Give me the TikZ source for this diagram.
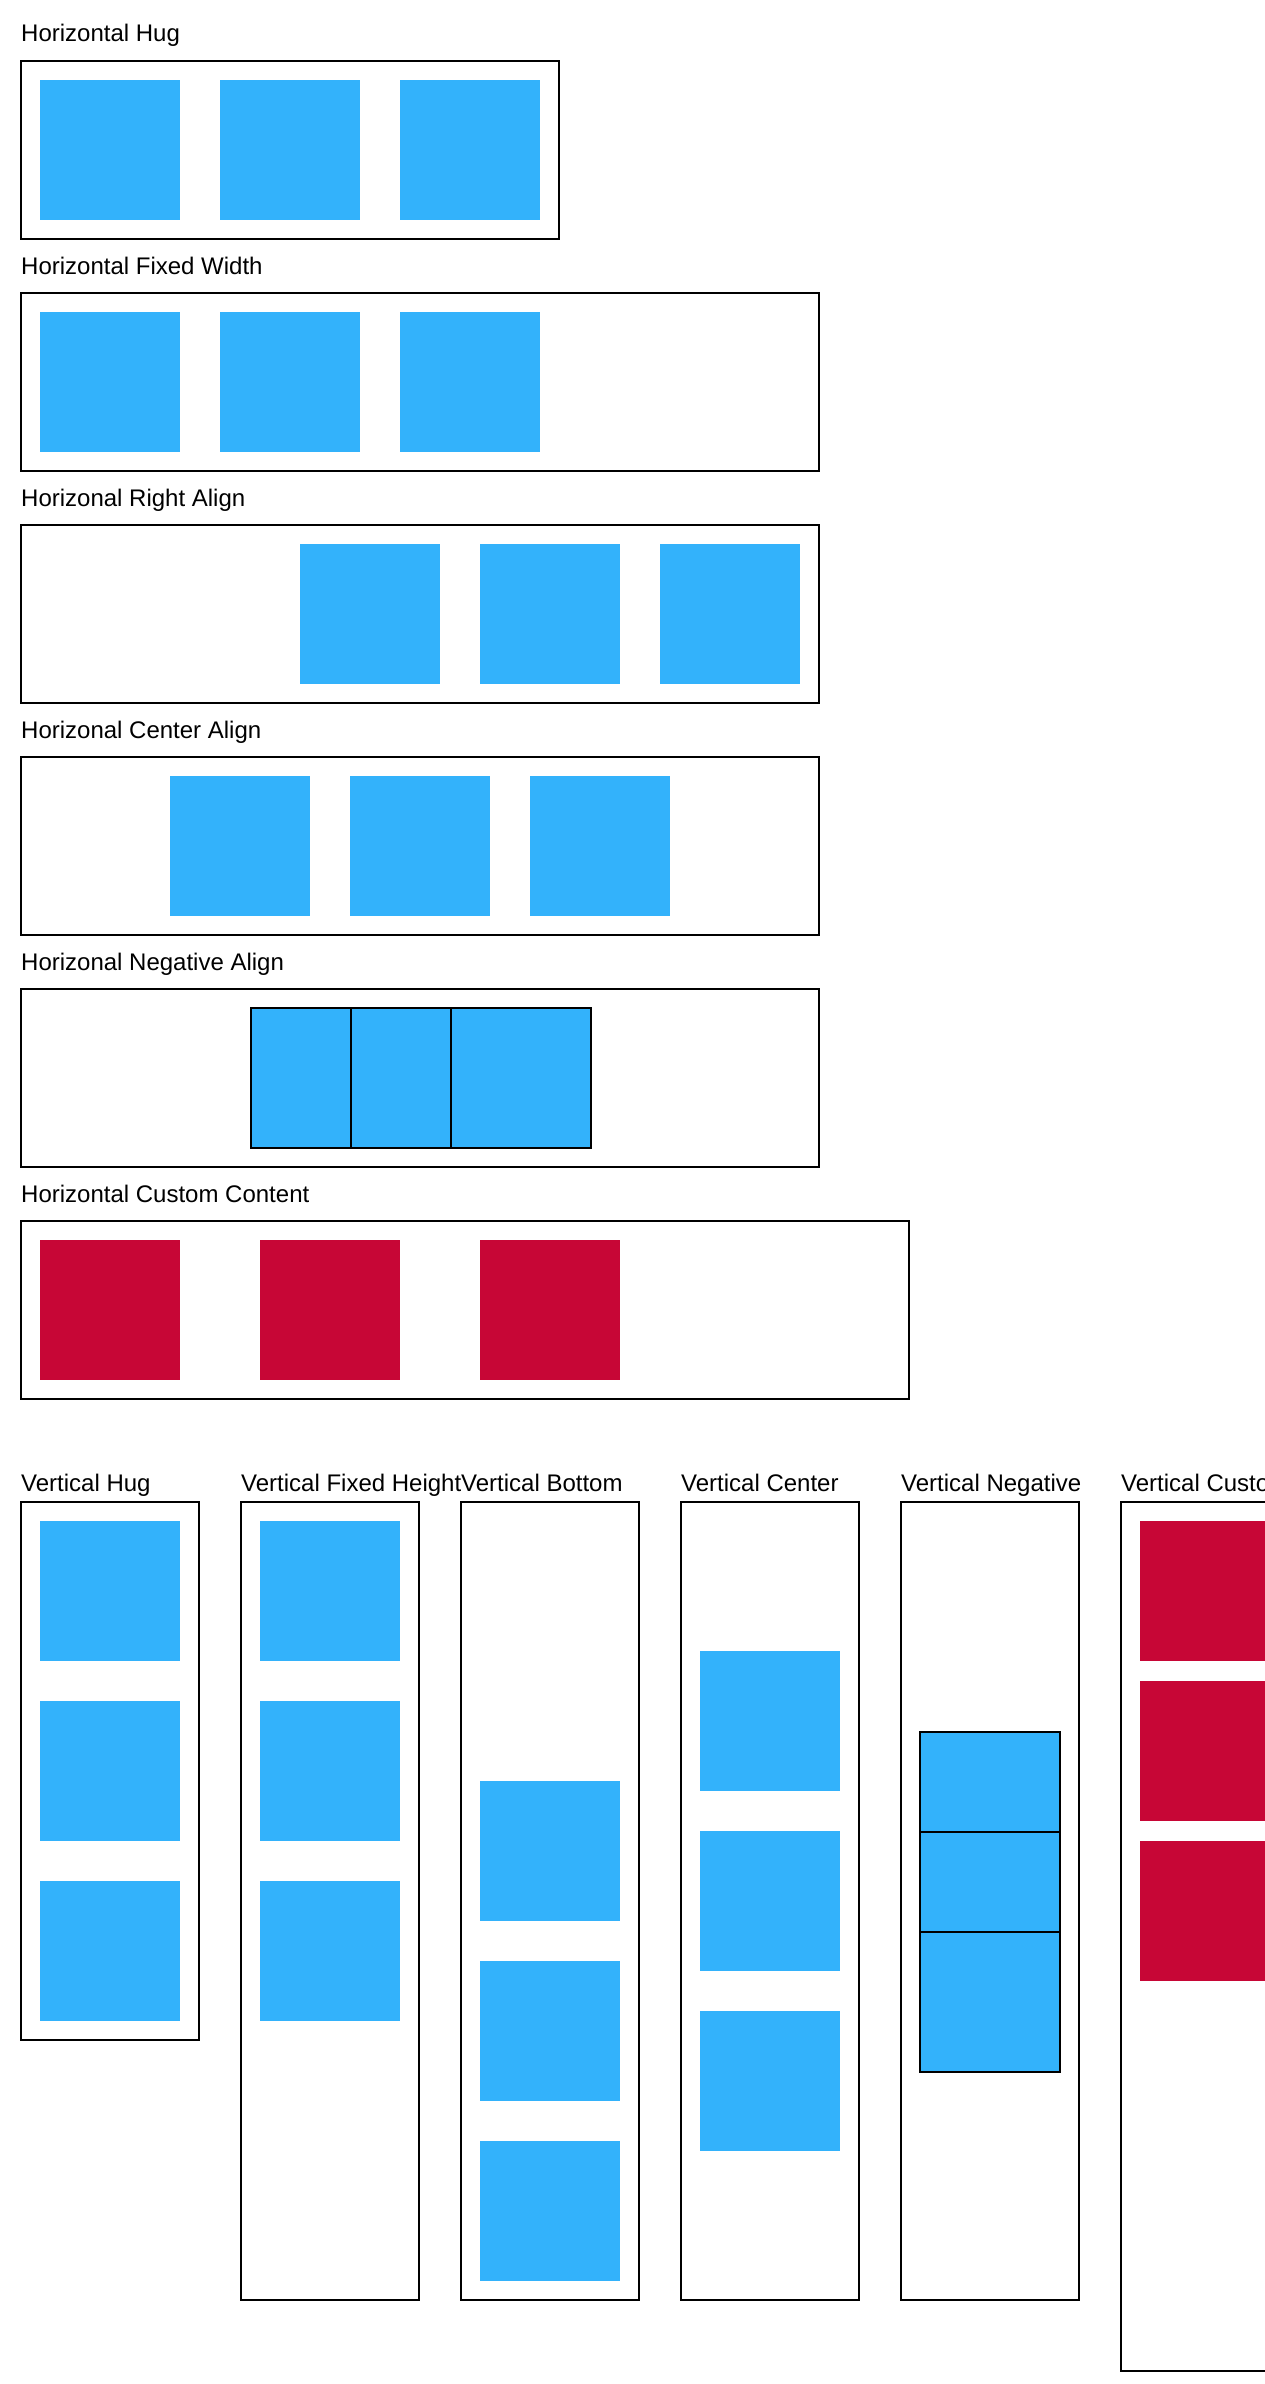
\documentclass[tikz,border=0pt]{standalone}
\usepackage{fontspec}
\setmainfont{Liberation Sans}
\usepackage{tikz}
\usetikzlibrary{positioning}
\definecolor{TileBlue}{HTML}{33B2FB}
\definecolor{TileRed}{HTML}{C70636}

\begin{document}
\begin{tikzpicture}[
  x=1pt, y=-1pt,
  frame/.style={rectangle, draw, line width=2pt, inner sep=0pt, outer sep=0pt,
    anchor=north west},
  tile/.style={rectangle, fill=TileBlue, minimum size=140pt, inner sep=0pt,
    outer sep=0pt, anchor=north west},
  redtile/.style={tile, fill=TileRed},
  negtile/.style={tile, draw, line width=2pt},
  caption/.style={anchor=base west, inner sep=0pt, font=\fontsize{24}{28}\selectfont}
]
  \useasboundingbox (0,0) rectangle (1264,2384);

  % horizontal hug
  \node[frame, minimum width=538pt, minimum height=178pt] (hug) at (21,61) {};
  \node[caption] (hugcap) at ([yshift=19pt]hug.north west) {Horizontal Hug};
  \node[tile] (hug1) at (40,80) {};
  \node[tile, right=40pt of hug1] (hug2) {};
  \node[tile, right=40pt of hug2] (hug3) {};

  % horizontal fixed width
  \node[frame, minimum width=798pt, minimum height=178pt] (fixed) at (21,293) {};
  \node[caption] (fixedcap) at ([yshift=19pt]fixed.north west) {Horizontal Fixed Width};
  \node[tile] (fixed1) at (40,312) {};
  \node[tile, right=40pt of fixed1] (fixed2) {};
  \node[tile, right=40pt of fixed2] (fixed3) {};

  % right align
  \node[frame, minimum width=798pt, minimum height=178pt] (right) at (21,525) {};
  \node[caption] (rightcap) at ([yshift=19pt]right.north west) {Horizonal Right Align};
  \node[tile] (right1) at (300,544) {};
  \node[tile, right=40pt of right1] (right2) {};
  \node[tile, right=40pt of right2] (right3) {};

  % center align
  \node[frame, minimum width=798pt, minimum height=178pt] (center) at (21,757) {};
  \node[caption] (centercap) at ([yshift=19pt]center.north west) {Horizonal Center Align};
  \node[tile] (center1) at (170,776) {};
  \node[tile, right=40pt of center1] (center2) {};
  \node[tile, right=40pt of center2] (center3) {};

  % negative spacing
  \node[frame, minimum width=798pt, minimum height=178pt] (neg) at (21,989) {};
  \node[caption] (negcap) at ([yshift=19pt]neg.north west) {Horizonal Negative Align};
  \node[negtile] (neg1) at (251,1008) {};
  \node[negtile, right=-40pt of neg1] (neg2) {};
  \node[negtile, right=-40pt of neg2] (neg3) {};

  % custom content
  \node[frame, minimum width=888pt, minimum height=178pt] (custom) at (21,1221) {};
  \node[caption] (customcap) at ([yshift=19pt]custom.north west) {Horizontal Custom Content};
  \node[redtile] (custom1) at (40,1240) {};
  \node[redtile, right=80pt of custom1] (custom2) {};
  \node[redtile, right=80pt of custom2] (custom3) {};

  % vertical hug
  \node[frame, minimum width=178pt, minimum height=538pt] (vhug) at (21,1502) {};
  \node[caption] (vhugcap) at ([yshift=10.5pt]vhug.north west) {Vertical Hug};
  \node[tile] (vhug1) at (40,1521) {};
  \node[tile, below=40pt of vhug1] (vhug2) {};
  \node[tile, below=40pt of vhug2] (vhug3) {};

  % vertical fixed height
  \node[frame, minimum width=178pt, minimum height=798pt] (vfixed) at (241,1502) {};
  \node[caption] (vfixedcap) at ([yshift=10.5pt]vfixed.north west) {Vertical Fixed Height};
  \node[tile] (vfixed1) at (260,1521) {};
  \node[tile, below=40pt of vfixed1] (vfixed2) {};
  \node[tile, below=40pt of vfixed2] (vfixed3) {};

  % vertical bottom
  \node[frame, minimum width=178pt, minimum height=798pt] (vbottom) at (461,1502) {};
  \node[caption] (vbottomcap) at ([yshift=10.5pt]vbottom.north west) {Vertical Bottom};
  \node[tile] (vbottom1) at (480,1781) {};
  \node[tile, below=40pt of vbottom1] (vbottom2) {};
  \node[tile, below=40pt of vbottom2] (vbottom3) {};

  % vertical center
  \node[frame, minimum width=178pt, minimum height=798pt] (vcenter) at (681,1502) {};
  \node[caption] (vcentercap) at ([yshift=10.5pt]vcenter.north west) {Vertical Center};
  \node[tile] (vcenter1) at (700,1651) {};
  \node[tile, below=40pt of vcenter1] (vcenter2) {};
  \node[tile, below=40pt of vcenter2] (vcenter3) {};

  % vertical negative
  \node[frame, minimum width=178pt, minimum height=798pt] (vneg) at (901,1502) {};
  \node[caption] (vnegcap) at ([yshift=10.5pt]vneg.north west) {Vertical Negative};
  \node[negtile] (vneg1) at (920,1732) {};
  \node[negtile, below=-40pt of vneg1] (vneg2) {};
  \node[negtile, below=-40pt of vneg2] (vneg3) {};

  % vertical custom content (runs off the page)
  \node[frame, minimum width=178pt, minimum height=869pt] (vcustom) at (1121,1502) {};
  \node[caption] (vcustomcap) at ([yshift=10.5pt]vcustom.north west) {Vertical Custom Content};
  \node[redtile] (vcustom1) at (1140,1521) {};
  \node[redtile, below=20pt of vcustom1] (vcustom2) {};
  \node[redtile, below=20pt of vcustom2] (vcustom3) {};
\end{tikzpicture}
\end{document}
